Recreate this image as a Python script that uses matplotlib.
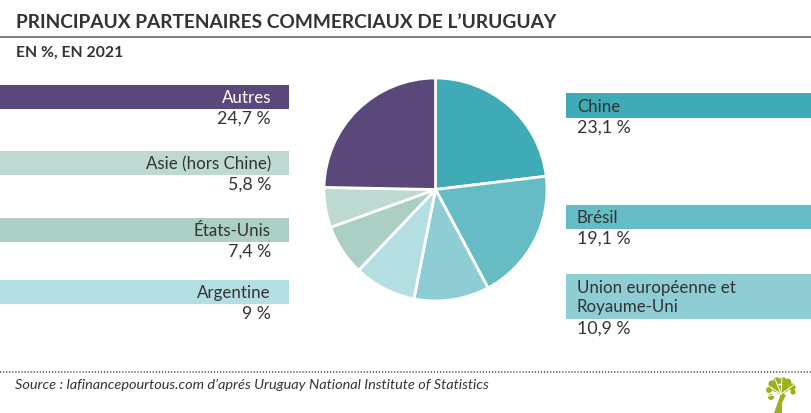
import matplotlib
matplotlib.use("Agg")
import matplotlib.pyplot as plt
from matplotlib.patches import Rectangle, Polygon, Circle

plt.rcParams['font.family'] = ['Lato', 'DejaVu Sans']

categories = ["Chine", "Brésil", "Union européenne et\nRoyaume-Uni", "Argentine",
              "États-Unis", "Asie (hors Chine)", "Autres"]
values = [23.1, 19.1, 10.9, 9.0, 7.4, 5.8, 24.7]
value_labels = ["23,1 %", "19,1 %", "10,9 %", "9 %", "7,4 %", "5,8 %", "24,7 %"]
colors = ["#3FABB6", "#65BCC5", "#8DCDD3", "#B3DEE2", "#ABCFC5", "#BDD9D2", "#594879"]
text_colors = ["#333333"] * 6 + ["#FFFFFF"]

W, H = 812, 413
fig = plt.figure(figsize=(W / 100, H / 100), dpi=100)
bg = fig.add_axes([0, 0, 1, 1])
bg.set_xlim(0, W)
bg.set_ylim(H, 0)
bg.axis("off")

DARK = "#333333"
bg.text(16, 22, "PRINCIPAUX PARTENAIRES COMMERCIAUX DE L’URUGUAY", fontsize=13.8,
        fontweight="bold", color=DARK, va="center", ha="left")
bg.plot([0, W + 2], [37, 37], color="#666666", lw=1.2)
bg.text(16, 52.5, "EN %, EN 2021", fontsize=11.3, fontweight="bold", color=DARK,
        va="center", ha="left")

# label boxes: (left, top, right, bottom)
boxes = [(566, 93, 813, 118), (566, 205, 813, 229), (566, 274, 813, 319),
         (0, 280, 289, 304), (0, 218, 289, 242), (0, 151, 289, 175), (0, 85, 289, 109)]
for i, (l, t, r, b) in enumerate(boxes):
    bg.add_patch(Rectangle((l, t), r - l, b - t, color=colors[i], lw=0))
    right_side = l > 0
    tx = l + 11 if right_side else r - 18
    ha = "left" if right_side else "right"
    bg.text(tx, (t + b) / 2 + 1, categories[i], fontsize=12.2, color=text_colors[i],
            ha=ha, va="center", linespacing=1.25)
    bg.text(tx, b + 10, value_labels[i], fontsize=12.8, color=DARK, ha=ha, va="center")

# pie
cx, cy, rad = 435.5, 189.5, 111.5
pie_ax = fig.add_axes([(cx - rad) / W, 1 - (cy + rad) / H, 2 * rad / W, 2 * rad / H])
pie_ax.pie(values, colors=colors, startangle=90, counterclock=False, radius=1.0,
           wedgeprops=dict(edgecolor="white", linewidth=2.0))
pie_ax.set_xlim(-1, 1)
pie_ax.set_ylim(-1, 1)

# footer
bg.plot([0, W + 2], [371.7, 371.7], color="#444444", lw=1.1, dashes=(0.8, 1.2))
bg.text(15, 385, "Source : lafinancepourtous.com d’aprés Uruguay National Institute of Statistics",
        fontsize=10.42, style="italic", color=DARK, va="center", ha="left")

# logo tree
GREEN = "#9DB01C"
bg.add_patch(Polygon([(774, 413), (782, 413), (782, 403), (786, 395), (781, 393), (778, 402)],
                     color=GREEN, lw=0))
for (x, y, r) in [(772, 384, 3.6), (777, 381, 3.6), (783, 381, 3.8), (788, 382, 3.4),
                  (792, 387, 3.6), (793, 392, 2.6), (769, 390, 3), (771, 397, 3),
                  (776, 388, 4), (785, 388, 4), (781, 390, 4.5)]:
    bg.add_patch(Circle((x, y), r, color=GREEN, lw=0))
for (x2, y2) in [(770, 387), (775, 379), (782, 378), (795, 384), (768, 396)]:
    bg.plot([781, x2], [394, y2], color="white", lw=0.7)

fig.savefig("out.png", dpi=100, facecolor="white")
